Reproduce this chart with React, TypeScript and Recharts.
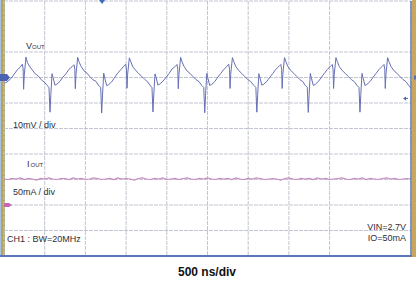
import React from "react";
import { LineChart, Line, XAxis, YAxis, CartesianGrid, ReferenceDot } from "recharts";

const FONT = "Arial, 'Liberation Sans', sans-serif";
const TRACE_BLUE = "#6670b4";
const TRACE_PINK = "#c98bc0";
const GRID = "#c2c6d1";
const FRAME_BLUE = "#5a78b8";
const TEXT = "#2e2e3a";

// 500 ns/div, 10 divisions each way
const GRID_X_NS = [0, 500, 1000, 1500, 2000, 2500, 3000, 3500, 4000, 4500, 5000];
const GRID_Y_DIV = [-5, -4, -3, -2, -1, 0, 1, 2, 3, 4, 5];
const MINOR_X_NS = Array.from({ length: 51 }, (_, i) => i * 100);
const MINOR_Y_DIV = Array.from({ length: 51 }, (_, i) => -5 + i * 0.2);

// VOUT ripple, [time ns, mV] (10 mV/div)
const VOUT_RIPPLE: [number, number][] = [
  [0, -1.8], [20, -2.1], [53, -1.4], [90, -0.2], [127, 1.4], [163, 3.0], [200, 4.1], [225, 5.2],
  [235, 3.4], [241, -4.6], [249, 1.0], [270, 8.0], [286, 6.0], [311, 4.5], [348, 2.9], [385, 1.4],
  [421, 0.6], [458, -0.9], [495, -1.8], [528, -3.0], [553, -4.0],
  [565, -13.6], [575, -7.0], [590, 1.5], [602, 0.1], [626, -3.0], [651, -2.6], [688, -1.5], [725, 0.2],
  [762, 1.5], [798, 3.2], [835, 4.2], [860, 5.0], [870, 3.2], [876, -4.4], [884, 1.0], [905, 7.9],
  [921, 6.2], [946, 4.4], [983, 2.6], [1020, 1.7], [1056, 0.3], [1093, -0.9], [1130, -1.5],
  [1163, -3.2], [1188, -3.8], [1200, -13.9], [1210, -7.2], [1225, 1.7], [1237, -0.1], [1261, -3.2],
  [1286, -2.8], [1323, -1.7], [1360, 0.1], [1397, 1.7], [1433, 3.0], [1470, 4.4], [1495, 5.2],
  [1505, 3.0], [1511, -4.2], [1519, 1.3], [1540, 7.7], [1556, 6.4], [1581, 4.2], [1618, 2.8],
  [1655, 1.5], [1691, 0.5], [1728, -0.7], [1765, -1.7],
  [1793, -3.0], [1818, -4.0], [1830, -13.5], [1840, -6.9], [1855, 1.4], [1867, 0.2], [1891, -3.0],
  [1916, -2.5], [1953, -1.4], [1990, 0.0], [2027, 1.5], [2063, 3.3], [2100, 4.2], [2125, 5.1],
  [2135, 3.2], [2141, -4.4], [2149, 1.1], [2170, 7.9], [2186, 6.2], [2211, 4.4], [2248, 2.6],
  [2285, 1.6], [2321, 0.4], [2358, -0.8], [2395, -1.6],
  [2429, -3.1], [2454, -3.9], [2466, -13.8], [2476, -7.1], [2491, 1.6], [2503, 0.0], [2527, -3.1],
  [2552, -2.7], [2589, -1.6], [2626, 0.1], [2663, 1.6], [2699, 3.1], [2736, 4.3], [2761, 5.2],
  [2771, 3.1], [2777, -4.3], [2785, 1.2], [2806, 7.8], [2822, 6.3], [2847, 4.3], [2884, 2.7],
  [2921, 1.6], [2957, 0.4], [2994, -0.8], [3031, -1.6],
  [3069, -3.1], [3094, -3.9], [3106, -13.6], [3116, -7.0], [3131, 1.5], [3143, 0.1], [3167, -3.0],
  [3192, -2.6], [3229, -1.5], [3266, 0.1], [3303, 1.6], [3339, 3.2], [3376, 4.3], [3401, 5.1],
  [3411, 3.1], [3417, -4.3], [3425, 1.1], [3446, 7.8], [3462, 6.3], [3487, 4.3], [3524, 2.7],
  [3561, 1.6], [3597, 0.4], [3634, -0.8], [3671, -1.6],
  [3701, -3.1], [3726, -3.9], [3738, -13.7], [3748, -7.1], [3763, 1.6], [3775, 0.0], [3799, -3.1],
  [3824, -2.7], [3861, -1.6], [3898, 0.0], [3935, 1.6], [3971, 3.1], [4008, 4.3], [4033, 5.1],
  [4043, 3.1], [4049, -4.3], [4057, 1.2], [4078, 7.8], [4094, 6.3], [4119, 4.3], [4156, 2.7],
  [4193, 1.6], [4229, 0.4], [4266, -0.8], [4303, -1.6],
  [4336, -3.1], [4361, -3.9], [4373, -13.6], [4383, -7.0], [4398, 1.6], [4410, 0.0], [4434, -3.1],
  [4459, -2.7], [4496, -1.6], [4533, 0.0], [4570, 1.6], [4606, 3.1], [4643, 4.3], [4668, 5.1],
  [4678, 3.1], [4684, -4.3], [4692, 1.2], [4713, 7.8], [4729, 6.3], [4754, 4.3], [4791, 2.7],
  [4828, 1.6], [4864, 0.4], [4901, -0.8], [4938, -1.6], [4971, -3.1], [5000, -4.2],
];

// IOUT, mA (50 mA/div), one sample every 50 ns
const IOUT_STEP_NS = 50;
const IOUT_MA = [
  51, 50, 52, 51, 53, 50, 52, 51, 49, 52,
  51, 53, 51, 50, 52, 52, 50, 53, 51, 52,
  50, 51, 53, 52, 50, 51, 52, 50, 53, 51,
  52, 51, 49, 52, 53, 51, 50, 52, 51, 53,
  50, 51, 52, 50, 52, 53, 51, 50, 52, 51,
  53, 51, 50, 52, 51, 52, 50, 53, 51, 50,
  52, 51, 53, 52, 50, 51, 52, 51, 49, 52,
  53, 51, 50, 52, 51, 52, 50, 53, 51, 52,
  50, 51, 52, 53, 51, 50, 52, 51, 53, 50,
  52, 51, 50, 52, 53, 51, 52, 50, 51, 52,
  51,
];

const TRIGGER_NS = 1205;
const TRIGGER_LEVEL_MV = -8.2;

const voutData = VOUT_RIPPLE.map(([t, mv]) => ({ t, mv }));
const ioutData = IOUT_MA.map((ma, i) => ({ t: i * IOUT_STEP_NS, ma }));

const VoutGround = ({ cx, cy }: any) => (
  <polygon
    points={`${cx - 4},${cy - 3.5} ${cx + 3},${cy - 3.5} ${cx + 6},${cy} ${cx + 3},${cy + 3.5} ${cx - 4},${cy + 3.5}`}
    fill="#4a64b4"
  />
);

const IoutGround = ({ cx, cy }: any) => (
  <polygon
    points={`${cx},${cy - 2} ${cx + 5},${cy - 2} ${cx + 8},${cy} ${cx + 5},${cy + 2} ${cx},${cy + 2}`}
    fill="#c468b4"
  />
);

const TriggerLevel = ({ cx, cy }: any) => (
  <g fill="#4a64b4" stroke="#4a64b4">
    <polygon points={`${cx - 8},${cy} ${cx - 5},${cy - 2} ${cx - 5},${cy + 2}`} strokeWidth={0} />
    <line x1={cx - 5} y1={cy} x2={cx - 3} y2={cy} strokeWidth={1} />
  </g>
);

const TriggerPos = ({ cx, cy }: any) => (
  <polygon points={`${cx - 3},${cy - 1} ${cx + 3},${cy - 1} ${cx},${cy + 3}`} fill="#3f6ec0" />
);

const RightRef = ({ cx, cy }: any) => (
  <rect x={cx + 3} y={cy - 2} width={2} height={4} fill="#4f70c0" />
);

const App = () => {
  return (
    <div style={{ position: "absolute", left: 0, top: 0, width: 416, height: 282, background: "#fff" }}>
      {/* scope frame bars */}
      <div style={{ position: "absolute", left: 0, top: 0, width: 1, height: 256, background: "#a9c2e2" }} />
      <div style={{ position: "absolute", left: 1, top: 0, width: 4, height: 256, background: "#b4a55e" }} />
      <div style={{ position: "absolute", left: 412, top: 0, width: 4, height: 257, background: "#c9a65c" }} />
      <div style={{ position: "absolute", left: 0, top: 255, width: 412, height: 2, background: FRAME_BLUE }} />

      <div style={{ position: "absolute", left: 0, top: 0 }}>
        {/* mirrored axes take no room, so the margins hold the frame */}
        <LineChart width={416} height={282} margin={{ top: 1, right: 5, bottom: 26, left: 4 }}>
          <CartesianGrid xAxisId="gx" yAxisId="gy" stroke={GRID} strokeDasharray="4 1" />
          <XAxis xAxisId="gx" type="number" dataKey="t" domain={[0, 5000]} ticks={GRID_X_NS} hide allowDataOverflow />
          <XAxis
            xAxisId="mx"
            type="number"
            domain={[0, 5000]}
            ticks={MINOR_X_NS}
            interval={0}
            height={26}
            mirror
            tick={false}
            tickSize={3}
            tickLine={{ stroke: "#8f96ad" }}
            axisLine={{ stroke: FRAME_BLUE, strokeWidth: 2 }}
            allowDataOverflow
          />
          <XAxis
            xAxisId="tx"
            orientation="top"
            type="number"
            domain={[0, 5000]}
            ticks={MINOR_X_NS}
            interval={0}
            height={1}
            mirror
            tick={false}
            tickSize={2}
            tickLine={{ stroke: "#a0a6ba" }}
            axisLine={false}
            allowDataOverflow
          />
          <YAxis yAxisId="gy" type="number" domain={[-5, 5]} ticks={GRID_Y_DIV} hide allowDataOverflow />
          <YAxis
            yAxisId="ly"
            type="number"
            domain={[-5, 5]}
            ticks={MINOR_Y_DIV}
            interval={0}
            width={4}
            mirror
            tick={false}
            tickSize={3}
            tickLine={{ stroke: "#8f96ad" }}
            axisLine={false}
            allowDataOverflow
          />
          <YAxis
            yAxisId="ry"
            orientation="right"
            type="number"
            domain={[-5, 5]}
            ticks={MINOR_Y_DIV}
            interval={0}
            width={5}
            mirror
            tick={false}
            tickSize={3}
            tickLine={{ stroke: "#8f96ad" }}
            axisLine={{ stroke: FRAME_BLUE, strokeWidth: 1.5 }}
            allowDataOverflow
          />
          <YAxis yAxisId="v" type="number" domain={[-70, 30]} hide allowDataOverflow />
          <YAxis yAxisId="i" type="number" domain={[-100, 400]} hide allowDataOverflow />

          <Line
            xAxisId="gx"
            yAxisId="i"
            data={ioutData}
            dataKey="ma"
            type="linear"
            stroke={TRACE_PINK}
            strokeWidth={1.2}
            dot={false}
            isAnimationActive={false}
          />
          <Line
            xAxisId="gx"
            yAxisId="v"
            data={voutData}
            dataKey="mv"
            type="linear"
            stroke={TRACE_BLUE}
            strokeWidth={1}
            dot={false}
            isAnimationActive={false}
          />

          <ReferenceDot xAxisId="gx" yAxisId="v" x={0} y={0} ifOverflow="visible" shape={VoutGround} />
          <ReferenceDot xAxisId="gx" yAxisId="i" x={0} y={0} ifOverflow="visible" shape={IoutGround} />
          <ReferenceDot xAxisId="gx" yAxisId="v" x={5000} y={0} ifOverflow="visible" shape={RightRef} />
          <ReferenceDot xAxisId="gx" yAxisId="v" x={5000} y={TRIGGER_LEVEL_MV} ifOverflow="visible" shape={TriggerLevel} />
          <ReferenceDot xAxisId="gx" yAxisId="v" x={TRIGGER_NS} y={30} ifOverflow="visible" shape={TriggerPos} />
        </LineChart>
      </div>

      <svg
        width={416}
        height={282}
        style={{ position: "absolute", left: 0, top: 0, pointerEvents: "none" }}
        fontFamily={FONT}
        fill={TEXT}
      >
        <text x={26} y={49.3} fontSize={9}>
          V<tspan fontSize={6}>OUT</tspan>
        </text>
        <text x={13} y={128} fontSize={9}>10mV / div</text>
        <text x={27} y={167} fontSize={9}>
          I<tspan dx={1} fontSize={6}>OUT</tspan>
        </text>
        <text x={13} y={195} fontSize={9}>50mA / div</text>
        <text x={7} y={241.5} fontSize={9}>CH1 : BW=20MHz</text>
        <text x={406} y={229.5} fontSize={9} textAnchor="end">VIN=2.7V</text>
        <text x={406} y={240.7} fontSize={9} textAnchor="end">IO=50mA</text>
        <text x={207} y={276} fontSize={12} fontWeight={700} fill="#111" textAnchor="middle">
          500 ns/div
        </text>
      </svg>
    </div>
  );
};

export default App;
